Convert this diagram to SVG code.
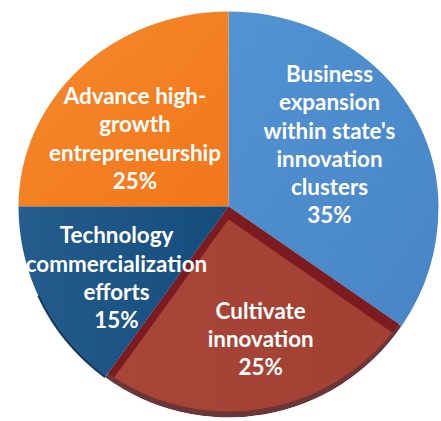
<svg xmlns="http://www.w3.org/2000/svg" xmlns:xlink="http://www.w3.org/1999/xlink" width="441" height="421" viewBox="0 0 441 421">
  <style>
    .lbl { font-family: Lato, "Liberation Sans", sans-serif; font-weight: 700; font-size: 22.4px; fill: #ffffff; text-anchor: middle; }
  </style>
  <defs>
    <linearGradient id="gOrange" x1="0" y1="0" x2="1" y2="1">
      <stop offset="0" stop-color="#F58A2C"/>
      <stop offset="1" stop-color="#F2761B"/>
    </linearGradient>
    <linearGradient id="gBlue" x1="0" y1="0" x2="1" y2="1">
      <stop offset="0" stop-color="#5393D2"/>
      <stop offset="1" stop-color="#4785C6"/>
    </linearGradient>
    <linearGradient id="gNavy" x1="0" y1="0" x2="1" y2="0">
      <stop offset="0" stop-color="#245C8E"/>
      <stop offset="1" stop-color="#154C7E"/>
    </linearGradient>
    <linearGradient id="gRed" x1="0" y1="0" x2="1" y2="0">
      <stop offset="0" stop-color="#A84738"/>
      <stop offset="1" stop-color="#A13F33"/>
    </linearGradient>
    <path id="redSector" d="M228.5 206.5 L401.6 326 A210 211 0 0 1 105.1 377.2 Z"/>
    <clipPath id="clipRed"><use xlink:href="#redSector"/></clipPath>
    <clipPath id="clipRedUp"><use xlink:href="#redSector" transform="translate(0,-6)"/></clipPath>
  </defs>

  <g id="slice-business">
    <path d="M228.5 206.5 L228.5 11.5 A210 195 0 0 1 438.5 206.5 A210 211 0 0 1 401.6 326 Z" fill="url(#gBlue)"/>
    <text class="lbl" x="329.5" y="82.3">Business</text>
    <text class="lbl" x="329.5" y="110.4">expansion</text>
    <text class="lbl" x="329.5" y="138.5">within state's</text>
    <text class="lbl" x="329.5" y="166.6">innovation</text>
    <text class="lbl" x="329.5" y="194.7">clusters</text>
    <text class="lbl" x="329.5" y="222.8">35%</text>
  </g>

  <g id="slice-advance">
    <path d="M228.5 206.5 L18.5 206.5 A210 195 0 0 1 228.5 11.5 Z" fill="url(#gOrange)"/>
    <text class="lbl" x="135" y="104">Advance high-</text>
    <text class="lbl" x="135" y="132.3">growth</text>
    <text class="lbl" x="135" y="160.6">entrepreneurship</text>
    <text class="lbl" x="135" y="189">25%</text>
  </g>

  <g id="slice-cultivate">
    <g clip-path="url(#clipRed)">
      <use xlink:href="#redSector" fill="#6B3637"/>
      <use xlink:href="#redSector" transform="translate(0,-6)" fill="#7C1B20"/>
      <g clip-path="url(#clipRedUp)">
        <use xlink:href="#redSector" transform="translate(0,13)" fill="url(#gRed)"/>
      </g>
    </g>
    <text class="lbl" x="260.7" y="319.3">Cultivate</text>
    <text class="lbl" x="260.7" y="347.3">innovation</text>
    <text class="lbl" x="260.7" y="375.3">25%</text>
  </g>

  <g id="slice-technology">
    <path d="M228.5 206.5 L105.1 377.2 A210 211 0 0 1 18.5 206.5 Z" fill="url(#gNavy)"/>
    <path d="M38.2 295.7 A210 211 0 0 0 105.1 377.2" fill="none" stroke="#0D2740" stroke-width="2" stroke-opacity="0.85"/>
    <text class="lbl" x="116.5" y="243.3">Technology</text>
    <text class="lbl" x="116.5" y="271.6">commercialization</text>
    <text class="lbl" x="116.5" y="299.9">efforts</text>
    <text class="lbl" x="116.5" y="328.2">15%</text>
  </g>
</svg>
